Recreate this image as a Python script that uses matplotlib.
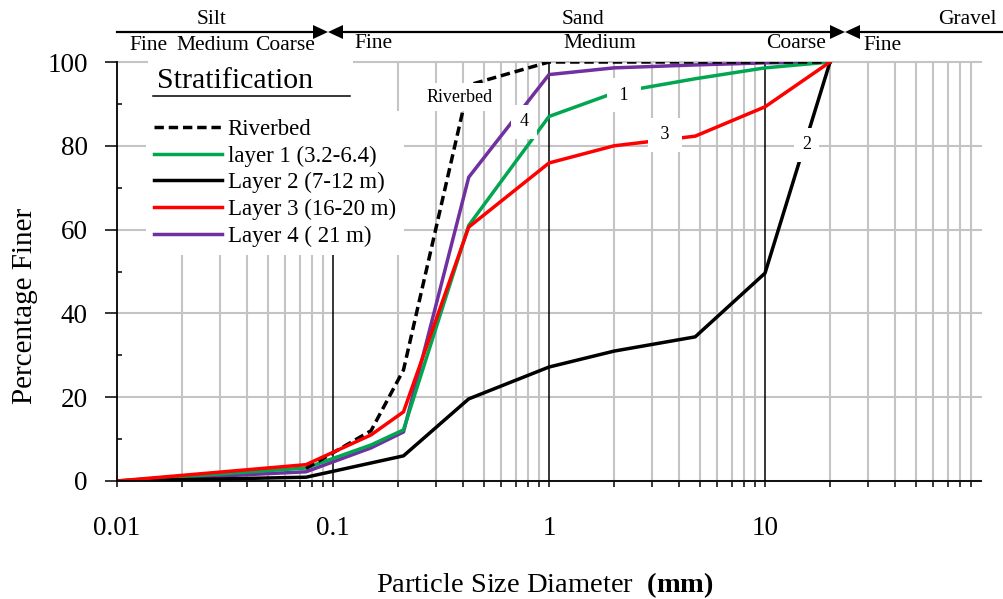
import matplotlib
matplotlib.use("Agg")
import matplotlib.pyplot as plt
from matplotlib.lines import Line2D
from matplotlib.patches import Polygon, Rectangle
from matplotlib.ticker import MultipleLocator, FixedLocator, LogLocator, NullFormatter, FixedFormatter

# ---- grain size distribution data (sieve size in mm, percent finer) ----
riverbed_size = [0.075, 0.15, 0.212, 0.425, 1.0, 2.0, 4.75, 10.0, 20.0]
riverbed_pct = [3.0, 12.0, 26.5, 94.5, 100.0, 100.0, 100.0, 100.0, 100.0]

layer1_size = [0.01, 0.075, 0.15, 0.212, 0.425, 1.0, 2.0, 4.75, 10.0, 20.0]
layer1_pct = [0.0, 3.1, 8.6, 12.2, 61.0, 87.0, 92.6, 96.0, 98.6, 100.0]

layer2_size = [0.01, 0.075, 0.212, 0.425, 1.0, 2.0, 4.75, 10.0, 20.0]
layer2_pct = [0.0, 0.9, 6.0, 19.6, 27.2, 31.0, 34.4, 49.6, 100.0]

layer3_size = [0.01, 0.075, 0.15, 0.212, 0.425, 1.0, 2.0, 4.75, 10.0, 20.0]
layer3_pct = [0.0, 3.9, 11.0, 16.5, 60.6, 75.9, 80.0, 82.3, 89.3, 100.0]

layer4_size = [0.01, 0.075, 0.15, 0.212, 0.425, 1.0, 2.0, 4.75, 10.0, 20.0]
layer4_pct = [0.0, 2.2, 7.9, 11.7, 72.5, 97.0, 98.6, 99.3, 99.8, 100.0]

series_labels = ["Riverbed", "layer 1 (3.2-6.4)", "Layer 2 (7-12 m)",
                 "Layer 3 (16-20 m)", "Layer 4 ( 21 m)"]
series_colors = ["black", "#00a650", "black", "#ff0000", "#7030a0"]

x_tick_values = [0.01, 0.1, 1, 10]
x_tick_labels = ["0.01", "0.1", "1", "10"]
y_tick_values = [0, 20, 40, 60, 80, 100]

SERIF = "Liberation Serif"
plt.rcParams["font.family"] = [SERIF, "DejaVu Serif"]
plt.rcParams["mathtext.fontset"] = "custom"
plt.rcParams["mathtext.rm"] = SERIF
plt.rcParams["mathtext.bf"] = SERIF + ":bold"

W, H = 1004, 599
fig = plt.figure(figsize=(W / 100, H / 100), dpi=100)
fig.patch.set_facecolor("white")


def fx(px):
    return px / W


def fy(py):
    return 1 - py / H


ax = fig.add_axes([fx(117), fy(481), fx(981) - fx(117), fy(62) - fy(481)])
ax.set_xscale("log")
ax.set_xlim(0.01, 100)
ax.set_ylim(0, 100)
ax.set_axisbelow(True)

# grid: light grey at minor decades and every 20 %, black at decades
grid_grey = "#c4c4c4"
ax.xaxis.set_major_locator(FixedLocator(x_tick_values))
ax.xaxis.set_major_formatter(FixedFormatter(x_tick_labels))
ax.xaxis.set_minor_locator(LogLocator(base=10, subs=range(2, 10), numticks=20))
ax.xaxis.set_minor_formatter(NullFormatter())
ax.yaxis.set_major_locator(FixedLocator(y_tick_values))
ax.yaxis.set_minor_locator(MultipleLocator(10))

ax.grid(which="minor", axis="x", color=grid_grey, lw=1.5)
ax.grid(which="major", axis="y", color=grid_grey, lw=1.5)
for gl in ax.get_ygridlines():
    gl.set_clip_on(False)
ax.vlines(x_tick_values[1:], 0, 100, colors="black", lw=1.1, zorder=0.8)

for side in ("top", "right"):
    ax.spines[side].set_visible(False)
for side in ("left", "bottom"):
    ax.spines[side].set_linewidth(1.3)
    ax.spines[side].set_zorder(3)

ax.tick_params(axis="x", which="both", direction="out", length=4.5, width=1.1,
               labelsize=19.5, pad=21)
ax.tick_params(axis="y", which="major", direction="out", length=9, width=1.1,
               labelsize=19.5, pad=12)
ax.tick_params(axis="y", which="minor", direction="in", length=3.5, width=1.1)

# ---- curves ----
lw = 2.5
ax.plot(riverbed_size, riverbed_pct, color=series_colors[0], lw=lw,
        dashes=(2.7, 1.4), label=series_labels[0], zorder=2.2)
ax.plot(layer1_size, layer1_pct, color=series_colors[1], lw=lw,
        label=series_labels[1], zorder=2.1)
ax.plot(layer2_size, layer2_pct, color=series_colors[2], lw=lw,
        label=series_labels[2], zorder=2.3)
ax.plot(layer3_size, layer3_pct, color=series_colors[3], lw=lw,
        label=series_labels[3], zorder=2.4)
ax.plot(layer4_size, layer4_pct, color=series_colors[4], lw=lw,
        label=series_labels[4], zorder=2.0)

# inline curve tags
tag_box = dict(boxstyle="square,pad=0.45", fc="white", ec="none")
ax.text(0.387, 91.6, "Riverbed", fontsize=13, ha="center", va="center",
        bbox=dict(boxstyle="square,pad=0.3", fc="white", ec="none"), zorder=5)
ax.text(0.766, 85.7, "4", fontsize=13, ha="center", va="center", bbox=tag_box, zorder=5)
ax.text(2.22, 92.1, " 1 ", fontsize=13, ha="center", va="center", bbox=tag_box, zorder=5)
ax.text(3.44, 82.6, " 3 ", fontsize=13, ha="center", va="center", bbox=tag_box, zorder=5)
ax.text(15.6, 80.2, "2", fontsize=13, ha="center", va="center", bbox=tag_box, zorder=5)

# ---- legend with underlined heading ----
leg = ax.legend(loc="upper left", bbox_to_anchor=(0.034, 0.884), fontsize=16.5,
                handlelength=2.95, handletextpad=0.25, labelspacing=0.25,
                frameon=True, fancybox=False, facecolor="white", edgecolor="none",
                framealpha=1, borderpad=0.35, borderaxespad=0)
leg.set_zorder(4)
ax.add_patch(Rectangle((fx(148), fy(118)), fx(353) - fx(148), fy(59) - fy(118),
                       transform=fig.transFigure, fc="white", ec="none",
                       clip_on=False, zorder=1.5))
fig.text(fx(157), fy(81), "Stratification", fontsize=21.5, ha="left", va="center")
fig.add_artist(Line2D([fx(153), fx(350)], [fy(96), fy(96)], color="black", lw=1.1))

# ---- axis titles ----
ax.set_xlabel(r"Particle Size Diameter  $\mathbf{(mm)}$", fontsize=20.5)
ax.xaxis.set_label_coords(0.495, -0.212)
ax.set_ylabel("Percentage Finer", fontsize=21)
ax.yaxis.set_label_coords(-0.092, 0.418)

# ---- soil classification header ----
line_y = 32
hdr = dict(color="black", lw=1.6)
fig.add_artist(Line2D([fx(117), fx(313)], [fy(line_y)] * 2, **hdr))
fig.add_artist(Line2D([fx(343), fx(830)], [fy(line_y)] * 2, **hdr))
fig.add_artist(Line2D([fx(860), fx(1004)], [fy(line_y)] * 2, **hdr))
for left, apex, right in [(313, 328, 343), (830, 845, 860)]:
    fig.add_artist(Polygon([(fx(left), fy(line_y - 7)), (fx(left), fy(line_y + 7)),
                            (fx(apex), fy(line_y))], closed=True, fc="black", ec="none"))
    fig.add_artist(Polygon([(fx(right), fy(line_y - 7)), (fx(right), fy(line_y + 7)),
                            (fx(apex), fy(line_y))], closed=True, fc="black", ec="none"))

hs = 15.5
fig.text(fx(212), fy(19), "Silt", fontsize=hs, ha="center", va="center")
fig.text(fx(583), fy(19), "Sand", fontsize=hs, ha="center", va="center")
fig.text(fx(967), fy(19), "Gravel", fontsize=hs, ha="center", va="center")
fig.text(fx(148), fy(45), "Fine", fontsize=hs, ha="center", va="center")
fig.text(fx(213), fy(45), "Medium", fontsize=hs, ha="center", va="center")
fig.text(fx(285), fy(46), "Coarse", fontsize=hs, ha="center", va="center")
fig.text(fx(374), fy(43), "Fine", fontsize=hs, ha="center", va="center")
fig.text(fx(600), fy(44), "Medium", fontsize=hs, ha="center", va="center")
fig.text(fx(796), fy(44), "Coarse", fontsize=hs, ha="center", va="center")
fig.text(fx(883), fy(46), "Fine", fontsize=hs, ha="center", va="center")

fig.savefig("out.png", dpi=100)
